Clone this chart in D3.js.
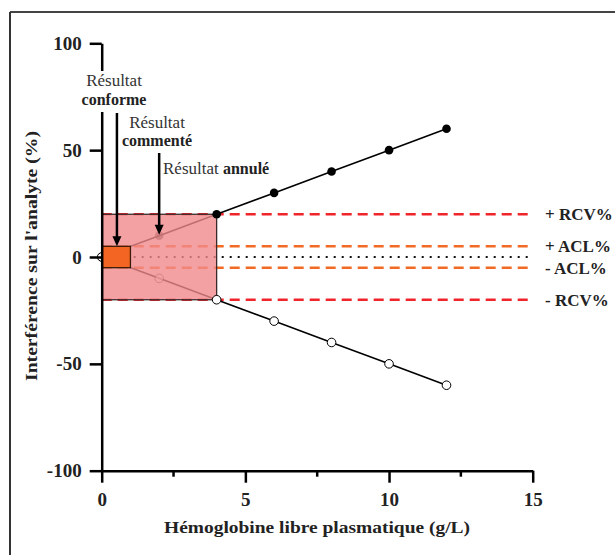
<!DOCTYPE html>
<html><head><meta charset="utf-8">
<script src="https://cdn.jsdelivr.net/npm/d3@7"></script>
<style>body{margin:0;background:#fff}svg{display:block}</style>
</head><body>
<svg id="c" width="615" height="555"></svg>
<script>
// ---- data ----
const hemoglobin = [0, 2, 4, 6, 8, 10, 12];
const positiveInterference = [0, 10, 20, 30, 40, 50, 60];
const negativeInterference = [0, -10, -20, -30, -40, -50, -60];
const limitValues = [20, 5, 0, -5, -20];
const limitLabels = ["+ RCV%", "+ ACL%", "", "- ACL%", "- RCV%"];
const limitKinds = ["rcv", "acl", "zero", "acl", "rcv"];
const xTicks = [0, 5, 10, 15];
const xMinorTicks = [2.5, 7.5, 12.5];
const yTicks = [-100, -50, 0, 50, 100];
const zoneRCV = {x0: 0, x1: 4, y0: -20, y1: 20};
const zoneACL = {x0: 0, x1: 1, y0: -5, y1: 5};

const FONT = "'Liberation Serif','Times New Roman',serif";
const svg = d3.select("#c");
const x = d3.scaleLinear().domain([0, 15]).range([101.7, 532.7]);
const y = d3.scaleLinear().domain([-100, 100]).range([470.7, 43.3]);

// outer frame (top + left visible)
svg.append("line").attr("x1", 10).attr("y1", 12).attr("x2", 615).attr("y2", 12).attr("stroke", "#444").attr("stroke-width", 1.8);
svg.append("line").attr("x1", 10).attr("y1", 12).attr("x2", 10).attr("y2", 555).attr("stroke", "#333").attr("stroke-width", 2);

// threshold lines
const styles = {
  rcv: {c: "#f0242b", w: 2.6, d: "10,6"},
  acl: {c: "#f26a24", w: 2.6, d: "10,6"},
  zero: {c: "#111", w: 2.2, d: "2,6"}
};
limitValues.forEach((v, i) => {
  const s = styles[limitKinds[i]];
  svg.append("line").attr("x1", x(0)).attr("x2", x(15)).attr("y1", y(v)).attr("y2", y(v))
    .attr("stroke", s.c).attr("stroke-width", s.w).attr("stroke-dasharray", s.d);
  if (limitLabels[i]) {
    svg.append("text").attr("x", 545).attr("y", y(v)).attr("dy", "0.35em")
      .attr("font-family", FONT).attr("font-weight", "bold").attr("font-size", 17)
      .attr("fill", "#222").text(limitLabels[i]);
  }
});

// series lines
const line = d3.line().x(d => x(d[0])).y(d => y(d[1]));
const pos = hemoglobin.map((h, i) => [h, positiveInterference[i]]);
const neg = hemoglobin.map((h, i) => [h, negativeInterference[i]]);
[pos, neg].forEach(s => svg.append("path").attr("d", line(s)).attr("fill", "none").attr("stroke", "#000").attr("stroke-width", 1.6));

const inside = d => d[0] > zoneRCV.x0 && d[0] < zoneRCV.x1;
function markers(filter, op) {
  svg.selectAll(null).data(pos.filter(filter)).enter().append("circle")
    .attr("cx", d => x(d[0])).attr("cy", d => y(d[1])).attr("r", 4.3).attr("fill", "#000").attr("opacity", op);
  svg.selectAll(null).data(neg.filter(filter)).enter().append("circle")
    .attr("cx", d => x(d[0])).attr("cy", d => y(d[1])).attr("r", 4.3).attr("fill", "#fff").attr("stroke", "#000").attr("stroke-width", 1).attr("opacity", op);
}
markers(inside, 0.6);

// RCV zone
svg.append("rect").attr("x", x(zoneRCV.x0)).attr("y", y(zoneRCV.y1))
  .attr("width", x(zoneRCV.x1) - x(zoneRCV.x0)).attr("height", y(zoneRCV.y0) - y(zoneRCV.y1))
  .attr("fill", "#f18a8c").attr("fill-opacity", 0.8).attr("stroke", "#3a2a2a").attr("stroke-width", 1.3);

markers(d => !inside(d), 1);

// ACL zone
svg.append("rect").attr("x", x(zoneACL.x0)).attr("y", y(zoneACL.y1))
  .attr("width", x(zoneACL.x1) - x(zoneACL.x0)).attr("height", y(zoneACL.y0) - y(zoneACL.y1))
  .attr("fill", "#f26522").attr("stroke", "#3a1c08").attr("stroke-width", 1.3);

// axes
const fmt = d => String(d);
const yAxis = svg.append("g").attr("transform", `translate(${x(0)},0)`)
  .call(d3.axisLeft(y).tickValues(yTicks).tickSize(12).tickSizeOuter(0).tickPadding(8).tickFormat(fmt));
const xAxis = svg.append("g").attr("transform", `translate(0,${y(-100)})`)
  .call(d3.axisBottom(x).tickValues(xTicks).tickSize(12).tickSizeOuter(0).tickPadding(10).tickFormat(fmt));
xAxis.selectAll(".minor").data(xMinorTicks).enter().append("line").attr("class", "minor")
  .attr("x1", d => x(d)).attr("x2", d => x(d)).attr("y1", 0).attr("y2", 6).attr("stroke", "#000").attr("stroke-width", 2.5);
[yAxis, xAxis].forEach(a => {
  a.select(".domain").attr("stroke", "#000").attr("stroke-width", 2.5);
  a.selectAll(".tick line").attr("stroke", "#000").attr("stroke-width", 2.5);
  a.selectAll("text").attr("font-family", FONT).attr("font-weight", "bold").attr("font-size", 19).attr("fill", "#222");
});

// axis titles
svg.append("text").attr("x", 317).attr("y", 533).attr("text-anchor", "middle")
  .attr("font-family", FONT).attr("font-weight", "bold").attr("font-size", 17.5).attr("fill", "#222")
  .attr("textLength", 306).attr("lengthAdjust", "spacingAndGlyphs")
  .text("Hémoglobine libre plasmatique (g/L)");
svg.append("text").attr("transform", "translate(37,256) rotate(-90)").attr("text-anchor", "middle")
  .attr("font-family", FONT).attr("font-weight", "bold").attr("font-size", 17.5).attr("fill", "#222")
  .attr("textLength", 250).attr("lengthAdjust", "spacingAndGlyphs")
  .text("Interférence sur l'analyte (%)");

// annotations
function arrow(xv, y0px, yTip) {
  svg.append("line").attr("x1", xv).attr("x2", xv).attr("y1", y0px).attr("y2", yTip - 8)
    .attr("stroke", "#000").attr("stroke-width", 2.5);
  svg.append("path").attr("d", `M${xv - 4.5},${yTip - 10} L${xv + 4.5},${yTip - 10} L${xv},${yTip} Z`).attr("fill", "#000");
}
// conforme label with white background
const gC = svg.append("g");
gC.append("rect").attr("x", 80).attr("y", 71).attr("width", 68).attr("height", 41).attr("fill", "#fff");
gC.append("text").attr("x", 114).attr("y", 86).attr("text-anchor", "middle").attr("font-family", FONT)
  .attr("font-size", 17).attr("fill", "#333").text("Résultat");
gC.append("text").attr("x", 114).attr("y", 105).attr("text-anchor", "middle").attr("font-family", FONT)
  .attr("font-weight", "bold").attr("font-size", 16).attr("fill", "#222").text("conforme");
arrow(x(0.53), 113, y(5));

svg.append("text").attr("x", 157).attr("y", 128).attr("text-anchor", "middle").attr("font-family", FONT)
  .attr("font-size", 17).attr("fill", "#333").text("Résultat");
svg.append("text").attr("x", 157).attr("y", 146).attr("text-anchor", "middle").attr("font-family", FONT)
  .attr("font-weight", "bold").attr("font-size", 16).attr("fill", "#222").text("commenté");
arrow(x(2), 153, y(10) - 1);

const tA = svg.append("text").attr("x", 163).attr("y", 174).attr("font-family", FONT).attr("font-size", 17).attr("fill", "#333");
tA.append("tspan").text("Résultat ");
tA.append("tspan").attr("font-weight", "bold").attr("font-size", 16).attr("fill", "#222").text("annulé");
</script>
</body></html>
